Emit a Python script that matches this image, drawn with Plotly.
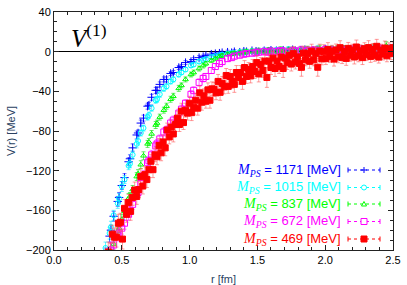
import plotly.graph_objects as go

# ---------------- data ----------------
r_fm = [0.36, 0.38, 0.41, 0.42, 0.44, 0.47, 0.48, 0.50, 0.52, 0.55,
        0.56, 0.58, 0.61, 0.62, 0.64, 0.66, 0.69, 0.70, 0.72, 0.75,
        0.76, 0.78, 0.81, 0.83, 0.86, 0.88, 0.92, 0.94, 0.97, 1.01,
        1.03, 1.07, 1.10, 1.12, 1.16, 1.19, 1.22, 1.24, 1.28, 1.31,
        1.33, 1.37, 1.40, 1.42, 1.46, 1.49, 1.51, 1.55, 1.58, 1.60,
        1.64, 1.67, 1.69, 1.73, 1.76, 1.78, 1.82, 1.85, 1.87, 1.91,
        1.94, 1.96, 2.00, 2.03, 2.05, 2.09, 2.12, 2.14, 2.18, 2.21,
        2.23, 2.27, 2.30, 2.32, 2.36, 2.39, 2.41, 2.45, 2.48, 2.50]

v_1171 = [-221, -204, -186, -180, -166, -151, -147, -135, -127, -111,
          -108, -97, -84, -82, -72, -67, -55, -54, -46, -39,
          -39, -33, -28, -28, -22, -21, -16, -15, -11, -10,
          -8, -6, -5, -4, -2.5, -2, -1.5, -1, -0.5, -1,
          0, -0.5, 0.5, 0, 1, 0.5, 0, 1, 0.5, 1.5,
          1, 0.5, 1.5, 1, 2, 1, 1.5, 2, 1, 1.5,
          2, 1, 2.5, 1.5, 2, 1, 2, 2.5, 1.5, 2,
          1, 2.5, 2, 1.5, 3, 2, 1.5, 2.5, 2, 3]
e_1171 = [7, 6, 6, 5, 5, 5, 5, 4, 4, 4,
          4, 4, 4, 3, 3, 3, 3, 3, 3, 3,
          3, 2.5, 2.5, 2.5, 2, 2, 2, 2, 2, 2,
          2, 2, 1.5, 1.5, 1.5, 1.5, 1.5, 1.5, 2, 1.5,
          2, 1.5, 2, 2, 1.5, 2, 2, 2.5, 2, 2,
          2.5, 2, 2, 2.5, 2, 2.5, 2, 2.5, 2, 2.5,
          2, 2.5, 3, 2, 2.5, 2.5, 3, 2, 2.5, 3,
          2.5, 3, 2.5, 3, 3, 2.5, 3, 3, 2.5, 3]

v_1015 = [-214, -198, -183, -177, -165, -153, -148, -136, -129, -115,
          -113, -104, -93, -90, -82, -77, -66, -64, -57, -49,
          -48, -43, -37, -35, -30, -28, -23, -21, -18, -14,
          -13, -10, -8.5, -7.5, -5.5, -4.5, -3.5, -3, -2, -1.5,
          -1.5, -0.5, -1, 0, 0.5, -0.5, 0.5, 1, 0, 1,
          1.5, 0.5, 1, 2, 1, 1.5, 0.5, 2, 1.5, 1,
          2.5, 1.5, 2, 1, 2.5, 2, 1.5, 3, 2, 1.5,
          2.5, 2, 3, 1.5, 2.5, 3, 2, 2.5, 3.5, 2]
e_1015 = [7, 6, 6, 6, 5, 5, 5, 5, 4, 4,
          4, 4, 4, 4, 3, 3, 3, 3, 3, 3,
          3, 3, 3, 2.5, 2.5, 2.5, 2.5, 2, 2, 2,
          2, 2, 2, 2, 2, 2, 2, 2, 2, 2,
          2, 2, 2.5, 2, 2, 2.5, 2, 2.5, 2, 2.5,
          2.5, 2, 2.5, 3, 2.5, 2, 3, 2.5, 3, 2.5,
          3, 2.5, 3, 3, 2.5, 3, 3, 3, 2.5, 3,
          3, 3, 3.5, 3, 3, 3.5, 3, 3, 3.5, 3]

v_837 = [-240, -225, -208, -203, -194, -181, -178, -169, -161, -148,
         -146, -139, -126, -123, -114, -105, -93, -91, -83, -74,
         -72, -66, -59, -55, -48, -45, -37, -34, -28, -23,
         -21, -17, -14, -12, -9, -7, -5, -4, -2.5, -2,
         -1.5, -1, -0.5, 0, 0.5, 0, 1, 0.5, 1.5, 1,
         0.5, 2, 1, 1.5, 2, 0.5, 2, 1.5, 2.5, 1,
         2, 3, 1.5, 2.5, 2, 3, 1.5, 2.5, 3, 2,
         3.5, 2, 3, 2.5, 4, 3, 2.5, 6, 3, 3.5]
e_837 = [7, 7, 6, 6, 6, 5, 5, 5, 5, 5,
         4, 4, 4, 4, 4, 4, 3.5, 3.5, 3.5, 3.5,
         3, 3, 3, 3, 3, 3, 3, 2.5, 2.5, 2.5,
         2.5, 2.5, 2.5, 2, 2, 2, 2, 2, 2, 2,
         2, 2.5, 2, 2.5, 2, 2.5, 2.5, 2, 2.5, 3,
         2.5, 3, 2.5, 3, 2.5, 3, 3, 2.5, 3, 3,
         3, 3.5, 3, 3, 3.5, 3, 3, 3.5, 3, 3.5,
         3, 3.5, 3.5, 3, 3.5, 3.5, 3, 4, 3.5, 3.5]

v_672 = [-250, -235, -210, -200, -195, -185, -183, -178, -173, -164,
         -161, -154, -144, -142, -133, -125, -112, -110, -104, -95,
         -93, -88, -81, -79, -72, -69, -62, -58, -52, -43,
         -39, -31, -27, -25, -19, -15, -12, -10, -7, -6,
         -4.5, -3.5, -2.5, -2, -1.5, -1, -0.5, 0, -0.5, 0.5,
         0, 1, 0.5, -0.5, 1, 0.5, 1.5, 0, 1, 1.5,
         0.5, 1, 2, 0.5, 1.5, 1, 2, 0.5, 1.5, 2.5,
         1, 2, 1.5, 2.5, 1, 2, 3, 1.5, 2.5, 2]
e_672 = [8, 8, 7, 7, 7, 6, 6, 6, 6, 6,
         5, 5, 5, 5, 5, 5, 5, 4.5, 4.5, 4.5,
         4.5, 4, 4, 4, 4, 4, 4, 4, 3.5, 3.5,
         3.5, 3.5, 3.5, 3, 3, 3, 3, 3, 3, 3,
         3, 3, 3, 3, 3, 3.5, 3, 3.5, 3, 3.5,
         3.5, 3, 3.5, 4, 3.5, 3, 4, 3.5, 4, 3.5,
         4, 3.5, 4, 4, 3.5, 4, 4, 4, 3.5, 4,
         4, 4, 4.5, 4, 4, 4.5, 4, 4, 4.5, 4]

# the lightest-mass data set has a finer set of separations
r_469 = [0.400, 0.415, 0.430, 0.445, 0.460, 0.475, 0.490, 0.505, 0.520, 0.535,
         0.550, 0.565, 0.580, 0.595, 0.610, 0.625, 0.640, 0.655, 0.670, 0.685,
         0.700, 0.715, 0.730, 0.745, 0.760, 0.775, 0.790, 0.805, 0.820, 0.835,
         0.850, 0.865, 0.880, 0.895, 0.910, 0.925, 0.940, 0.955, 0.970, 0.985,
         1.000, 1.015, 1.030, 1.045, 1.060, 1.075, 1.090, 1.105, 1.120, 1.135,
         1.150, 1.165, 1.180, 1.195, 1.210, 1.225, 1.240, 1.255, 1.270, 1.285,
         1.300, 1.315, 1.330, 1.345, 1.360, 1.375, 1.390, 1.405, 1.420, 1.435,
         1.450, 1.465, 1.480, 1.495, 1.510, 1.525, 1.540, 1.555, 1.570, 1.585,
         1.600, 1.615, 1.630, 1.645, 1.660, 1.675, 1.690, 1.705, 1.720, 1.735,
         1.750, 1.765, 1.780, 1.795, 1.810, 1.825, 1.840, 1.855, 1.870, 1.885,
         1.900, 1.915, 1.930, 1.945, 1.960, 1.975, 1.990, 2.005, 2.020, 2.035,
         2.050, 2.065, 2.080, 2.095, 2.110, 2.125, 2.140, 2.155, 2.170, 2.185,
         2.200, 2.215, 2.230, 2.245, 2.260, 2.275, 2.290, 2.305, 2.320, 2.335,
         2.350, 2.365, 2.380, 2.395, 2.410, 2.425, 2.440, 2.455, 2.470, 2.485,
         2.500]
v_469 = [-202, -203, -184, -187, -187, -173, -172, -189, -158, -164,
         -152, -161, -147, -139.5, -146, -139, -126, -135.5, -124, -129,
         -119, -110.5, -119, -104, -106, -94.5, -102, -91, -97, -79,
         -86, -76, -83, -73.5, -67, -73.5, -60, -71.5, -59, -62,
         -52, -61.5, -56, -49, -57, -41.5, -51, -44.5, -50, -38.5,
         -49, -37.5, -38, -41.5, -30, -41, -32, -35.5, -24, -35,
         -25, -30, -33, -21, -26, -21, -30, -16, -25, -18,
         -24.5, -15, -20, -11, -22.5, -13, -19, -9.5, -26, -9.5,
         -16, -6.5, -17, -9.5, -15, -5.5, -17, -6.5, -11, -3.75,
         -12.5, -2, -10.5, -5.25, -12, -15.75, -1.5, -8.25, -2, -9.75,
         0.5, -8.25, -2, -15.75, 0.5, -7.25, 0, -7, 2.1, -4.8,
         0.4, -7.5, 1.7, -5.2, 4, -6, 0.1, -6.8, 3.3, -3.6,
         1.5, -5.4, 4.7, -4.2, 0.9, -6, 3, -3, 4.1, -4.8,
         2.2, -3.7, 5.4, -5.5, 1.5, -2.4, 3.7, -4.2, 2.9, -2,
         4]
e_469 = [10, 10, 9, 9, 10, 9, 9, 10, 9, 8,
         8, 9, 8, 8, 8, 8, 8, 8, 8, 8,
         8, 7, 8, 7, 8, 7, 8, 7, 8, 7,
         7, 7, 8, 7, 7, 7, 8, 7, 7, 7,
         7, 8, 7, 7, 7, 7, 8, 7, 7, 7,
         8, 7, 7, 7, 7, 8, 7, 7, 7, 7,
         7, 7, 8, 7, 7, 7, 8, 7, 7, 7,
         7, 7, 7, 7, 8, 7, 7, 7, 10, 7,
         7, 7, 8, 7, 7, 7, 9, 7, 7, 7,
         7, 7, 7, 6, 7, 9, 7, 6, 7, 7,
         7, 6, 7, 9, 7, 6, 7, 6, 7, 6,
         6, 7, 6, 6, 7, 6, 6, 7, 6, 6,
         6, 7, 7, 6, 6, 7, 6, 6, 7, 6,
         6, 6, 7, 6, 6, 6, 7, 6, 6, 6,
         6]

mass_labels = ["1171", "1015", "837", "672", "469"]
r_values = [r_fm, r_fm, r_fm, r_fm, r_469]
values = [v_1171, v_1015, v_837, v_672, v_469]
errors = [e_1171, e_1015, e_837, e_672, e_469]

x_ticks = [0.0, 0.5, 1.0, 1.5, 2.0, 2.5]
y_ticks = [40, 0, -40, -80, -120, -160, -200]

# ---------------- styles ----------------
colors = ["#0000ff", "#00ffff", "#00ff00", "#ff00ff", "#ff0000"]
err_colors = ["rgba(0,0,255,0.55)", "rgba(0,230,255,0.6)", "rgba(0,220,0,0.6)",
              "rgba(255,0,255,0.55)", "rgba(255,90,90,0.6)"]
symbols = ["cross-thin-open", "circle-open", "triangle-up-open", "square-open", "square"]
sizes = [6, 5, 5, 6, 6]

fig = go.Figure()
for m, rr, v, e, c, ec, s, sz in zip(mass_labels, r_values, values, errors, colors, err_colors, symbols, sizes):
    fig.add_trace(go.Scatter(
        x=rr, y=v, mode="markers", name=m, showlegend=False,
        marker=dict(symbol=s, size=sz, color=c, line=dict(color=c, width=1)),
        error_y=dict(type="data", array=e, color=ec, thickness=1, width=2),
        cliponaxis=True,
    ))

# ---------------- layout ----------------
L, R, T, B = 54, 393, 12, 250
W, H = 407, 285


def px(x):
    return (x - L) / (R - L)


def py(y):
    return (B - y) / (B - T)


shapes = []
annotations = []
rows_y = [170, 187.5, 204, 221.5, 239]
for i, (m, c) in enumerate(zip(mass_labels, colors)):
    yy = rows_y[i]
    annotations.append(dict(
        xref="paper", yref="paper", x=px(343), y=py(yy), xanchor="right", yanchor="middle",
        showarrow=False,
        text='<span style="font-family:Liberation Serif;font-size:14px"><i>M</i><sub><i>PS</i></sub></span> = %s [MeV]' % m,
        font=dict(family="Liberation Sans", size=13, color=c),
    ))
    shapes.append(dict(type="line", xref="paper", yref="paper", x0=px(348), x1=px(380),
                       y0=py(yy), y1=py(yy), line=dict(color=c, width=1, dash="dot")))
    for xc in (348, 380):
        shapes.append(dict(type="line", xref="paper", yref="paper", x0=px(xc), x1=px(xc),
                           y0=py(yy - 2.5), y1=py(yy + 2.5), line=dict(color=c, width=1)))
    cx = 364
    if i == 0:
        shapes.append(dict(type="line", xref="paper", yref="paper", x0=px(cx - 3), x1=px(cx + 3),
                           y0=py(yy), y1=py(yy), line=dict(color=c, width=1)))
        shapes.append(dict(type="line", xref="paper", yref="paper", x0=px(cx), x1=px(cx),
                           y0=py(yy - 3), y1=py(yy + 3), line=dict(color=c, width=1)))
    elif i == 1:
        shapes.append(dict(type="circle", xref="paper", yref="paper", x0=px(cx - 2.5), x1=px(cx + 2.5),
                           y0=py(yy - 2.5), y1=py(yy + 2.5), line=dict(color=c, width=1),
                           fillcolor="white"))
    elif i == 2:
        p = "M %f %f L %f %f L %f %f Z" % (px(cx - 2.5), py(yy + 2), px(cx + 2.5), py(yy + 2), px(cx), py(yy - 2.5))
        shapes.append(dict(type="path", xref="paper", yref="paper", path=p, line=dict(color=c, width=1),
                           fillcolor="white"))
    elif i == 3:
        shapes.append(dict(type="rect", xref="paper", yref="paper", x0=px(cx - 3), x1=px(cx + 3),
                           y0=py(yy - 3), y1=py(yy + 3), line=dict(color=c, width=1), fillcolor="white"))
    else:
        shapes.append(dict(type="rect", xref="paper", yref="paper", x0=px(cx - 3), x1=px(cx + 3),
                           y0=py(yy - 3), y1=py(yy + 3), line=dict(color=c, width=1), fillcolor=c))

annotations.append(dict(
    xref="paper", yref="paper", x=px(69), y=py(36), xanchor="left", yanchor="middle", showarrow=False,
    text="<i>V</i><sup>(1)</sup>", font=dict(family="Liberation Serif", size=25, color="black"),
))

axis_common = dict(
    showline=True, linecolor="#222222", linewidth=1, mirror="ticks",
    ticks="inside", ticklen=5, tickcolor="#222222", tickwidth=1,
    showgrid=False, automargin=False,
    tickfont=dict(family="Liberation Sans", size=11, color="black"),
)

fig.update_layout(
    width=W, height=H,
    autosize=False,
    margin=dict(l=L, r=W - R, t=T, b=H - B, pad=0, autoexpand=False),
    paper_bgcolor="white", plot_bgcolor="white",
    showlegend=False,
    xaxis=dict(range=[0, 2.5], tickvals=x_ticks, ticktext=["%.1f" % t for t in x_ticks],
               zeroline=False,
               minor=dict(dtick=0.1, ticks="inside", ticklen=3, tickcolor="#222222"),
               title=dict(text="r [fm]", font=dict(family="Liberation Sans", size=11), standoff=12),
               **axis_common),
    yaxis=dict(range=[-200, 40], tickvals=y_ticks,
               zeroline=True, zerolinecolor="black", zerolinewidth=1,
               minor=dict(dtick=10, tick0=0, ticks="inside", ticklen=3, tickcolor="#222222"),
               title=dict(text="V(r) [MeV]", font=dict(family="Liberation Sans", size=11), standoff=8),
               **axis_common),
    shapes=shapes,
    annotations=annotations,
)

fig.write_html(
    "out.html",
    config={"displayModeBar": False},
    post_script="document.body.style.margin='0';document.body.style.overflow='hidden';",
)
